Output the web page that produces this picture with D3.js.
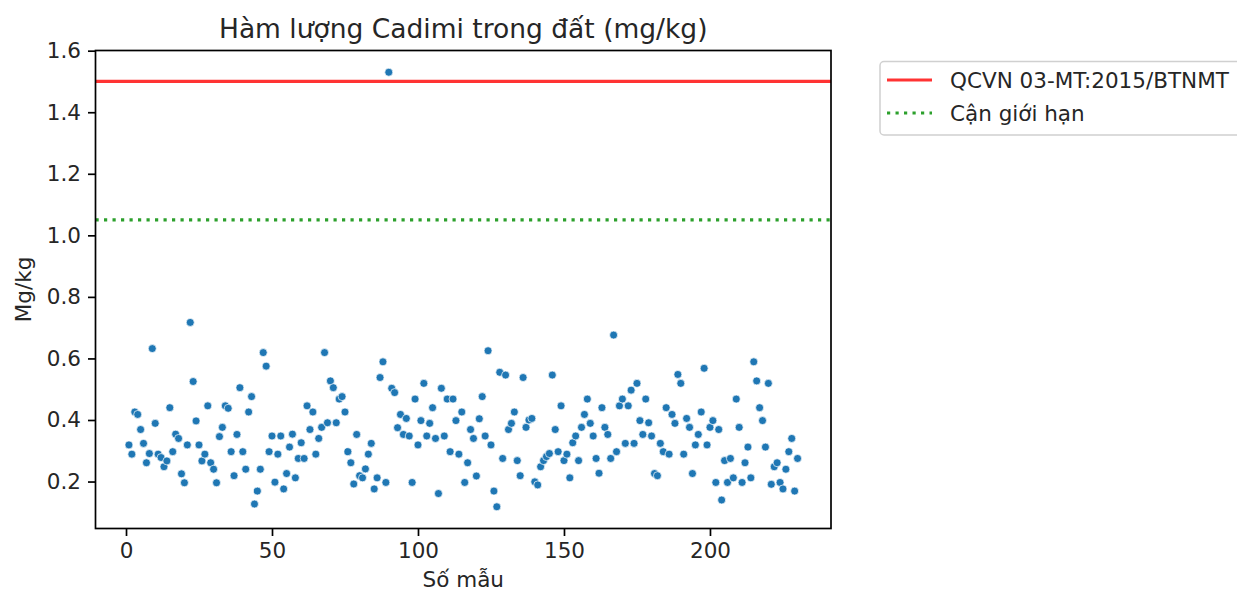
<!DOCTYPE html>
<html>
<head>
<meta charset="utf-8">
<script src="https://cdn.jsdelivr.net/npm/d3@7"></script>
<style>
  body { margin: 0; background: #fff; }
  svg { display: block; font-family: "DejaVu Sans", sans-serif; }
</style>
</head>
<body>
<script>
// Cd content per sample (mg/kg), sample no. 1..230
var cadmium = [
  0.319, 0.289, 0.426, 0.418, 0.369, 0.324, 0.261, 0.291, 0.632, 0.389,
  0.289, 0.278, 0.248, 0.267, 0.440, 0.297, 0.354, 0.340, 0.225, 0.196,
  0.319, 0.717, 0.525, 0.397, 0.319, 0.267, 0.289, 0.446, 0.261, 0.240,
  0.196, 0.346, 0.376, 0.446, 0.438, 0.297, 0.219, 0.353, 0.505,
  0.297, 0.240, 0.426, 0.476, 0.127, 0.169, 0.240, 0.619, 0.575, 0.297, 0.348,
  0.198, 0.289, 0.348, 0.176, 0.226, 0.312, 0.354, 0.212, 0.275, 0.326,
  0.275, 0.446, 0.369, 0.426, 0.289, 0.340, 0.376, 0.619, 0.391, 0.527,
  0.505, 0.391, 0.468, 0.476, 0.426, 0.297, 0.261, 0.192, 0.353, 0.219,
  0.212, 0.241, 0.289, 0.324, 0.176, 0.212, 0.538, 0.589, 0.197, 1.530,
  0.503, 0.489, 0.375, 0.418, 0.353, 0.405, 0.348, 0.197, 0.468, 0.319,
  0.398, 0.519, 0.348, 0.389, 0.440, 0.340, 0.161, 0.503, 0.348, 0.468,
  0.297, 0.468, 0.398, 0.289, 0.426, 0.197, 0.261, 0.369, 0.340, 0.218,
  0.404, 0.476, 0.348, 0.625, 0.319, 0.169, 0.118, 0.555, 0.275, 0.546,
  0.369, 0.389, 0.426, 0.268, 0.219, 0.538, 0.376, 0.400, 0.405, 0.199,
  0.189, 0.248, 0.268, 0.281, 0.291, 0.546, 0.369, 0.297, 0.446, 0.268,
  0.289, 0.212, 0.326, 0.348, 0.268, 0.376, 0.418, 0.468, 0.389, 0.348,
  0.275, 0.227, 0.440, 0.376, 0.353, 0.275, 0.676, 0.297, 0.446, 0.468,
  0.324, 0.446, 0.497, 0.324, 0.519, 0.398, 0.353, 0.468, 0.391, 0.348,
  0.226, 0.219, 0.324, 0.297, 0.440, 0.289, 0.418, 0.389, 0.548, 0.519,
  0.289, 0.405, 0.376, 0.226, 0.319, 0.353, 0.426, 0.568, 0.319, 0.376,
  0.398, 0.197, 0.369, 0.140, 0.268, 0.197, 0.275, 0.212, 0.468, 0.376,
  0.197, 0.261, 0.312, 0.212, 0.589, 0.527, 0.440, 0.398, 0.312, 0.519,
  0.191, 0.248, 0.261, 0.197, 0.176, 0.240, 0.297, 0.340, 0.169, 0.275
];
var sampleNo = cadmium.map(function (v, i) { return i + 1; });

var limits = [1.5, 1.05];
var limitLabels = ["QCVN 03-MT:2015/BTNMT", "Cận giới hạn"];
var xTicks = [0, 50, 100, 150, 200];
var yTicks = [0.2, 0.4, 0.6, 0.8, 1.0, 1.2, 1.4, 1.6];
var title = "Hàm lượng Cadimi trong đất (mg/kg)";
var xLabel = "Số mẫu";
var yLabel = "Mg/kg";

var W = 1237, H = 592;
var margin = { top: 50.5, left: 95.5, right: 1237 - 831, bottom: 592 - 528.5 };
var w = W - margin.left - margin.right,
  h = H - margin.top - margin.bottom;

var svg = d3.select("body").append("svg")
  .attr("width", W)
  .attr("height", H);

// matplotlib style 5% margins
var xPad = 0.05 * (d3.max(sampleNo) - d3.min(sampleNo));
var yMin = d3.min(cadmium), yMax = d3.max(cadmium);
var yPad = 0.05 * (yMax - yMin);

var x = d3.scaleLinear()
  .domain([d3.min(sampleNo) - xPad, d3.max(sampleNo) + xPad])
  .range([0, w]);
var y = d3.scaleLinear()
  .domain([yMin - yPad, yMax + yPad])
  .range([h, 0]);

var g = svg.append("g")
  .attr("transform", "translate(" + margin.left + "," + margin.top + ")");

var colors = { limit: "#ff0000", near: "#2ca02c", dot: "#1f77b4" };

// points
g.selectAll("circle.pt")
  .data(cadmium)
  .enter()
  .append("circle")
  .attr("class", "pt")
  .attr("cx", (d, i) => x(sampleNo[i]))
  .attr("cy", d => y(d))
  .attr("r", 4)
  .attr("fill", colors.dot)
  .attr("stroke", "#fff")
  .attr("stroke-width", 0.7);

// threshold lines
g.append("line")
  .attr("x1", 0).attr("x2", w)
  .attr("y1", y(limits[0])).attr("y2", y(limits[0]))
  .attr("stroke", colors.limit)
  .attr("stroke-opacity", 0.8)
  .attr("stroke-width", 3.2);

g.append("line")
  .attr("x1", 0).attr("x2", w)
  .attr("y1", y(limits[1])).attr("y2", y(limits[1]))
  .attr("stroke", colors.near)
  .attr("stroke-width", 3.2)
  .attr("stroke-dasharray", "3.2,5.3");

// axes
var xAxis = g.append("g")
  .attr("transform", "translate(0," + h + ")")
  .call(d3.axisBottom(x).tickValues(xTicks).tickSize(7.5).tickPadding(7));
var yAxis = g.append("g")
  .call(d3.axisLeft(y).tickValues(yTicks).tickSize(7.5).tickPadding(7)
    .tickFormat(d3.format(".1f")));

[xAxis, yAxis].forEach(function (ax) {
  ax.select(".domain").remove();
  ax.selectAll(".tick line").attr("stroke", "#000").attr("stroke-width", 1.7);
  ax.selectAll(".tick text")
    .attr("fill", "#262626")
    .style("font-size", "21.5px")
    .style("font-family", "DejaVu Sans, sans-serif");
});

// frame
g.append("rect")
  .attr("width", w)
  .attr("height", h)
  .attr("fill", "none")
  .attr("stroke", "#000")
  .attr("stroke-width", 1.7);

// texts
svg.append("text")
  .attr("x", margin.left + w / 2)
  .attr("y", 37.5)
  .attr("text-anchor", "middle")
  .attr("fill", "#262626")
  .style("font-size", "26.5px")
  .text(title);

svg.append("text")
  .attr("x", margin.left + w / 2)
  .attr("y", 587)
  .attr("text-anchor", "middle")
  .attr("fill", "#262626")
  .style("font-size", "21.5px")
  .text(xLabel);

svg.append("text")
  .attr("transform", "translate(31," + (margin.top + h / 2) + ") rotate(-90)")
  .attr("text-anchor", "middle")
  .attr("fill", "#262626")
  .style("font-size", "21.5px")
  .text(yLabel);

// legend
var legend = svg.append("g").attr("transform", "translate(880,61.5)");
legend.append("rect")
  .attr("width", 372)
  .attr("height", 73.5)
  .attr("rx", 4)
  .attr("fill", "#fff")
  .attr("fill-opacity", 0.8)
  .attr("stroke", "#d0d0d0")
  .attr("stroke-width", 1.5);

var rows = legend.selectAll("g.row")
  .data(limitLabels)
  .enter()
  .append("g")
  .attr("class", "row")
  .attr("transform", (d, i) => "translate(0," + (18.5 + i * 33) + ")");

rows.append("line")
  .attr("x1", 7).attr("x2", 52)
  .attr("stroke", (d, i) => i === 0 ? colors.limit : colors.near)
  .attr("stroke-opacity", (d, i) => i === 0 ? 0.8 : 1)
  .attr("stroke-width", 3.2)
  .attr("stroke-dasharray", (d, i) => i === 0 ? null : "3.2,5.3");

rows.append("text")
  .attr("x", 70)
  .attr("dy", "0.35em")
  .attr("fill", "#262626")
  .style("font-size", "21.5px")
  .text(d => d);
</script>
</body>
</html>
